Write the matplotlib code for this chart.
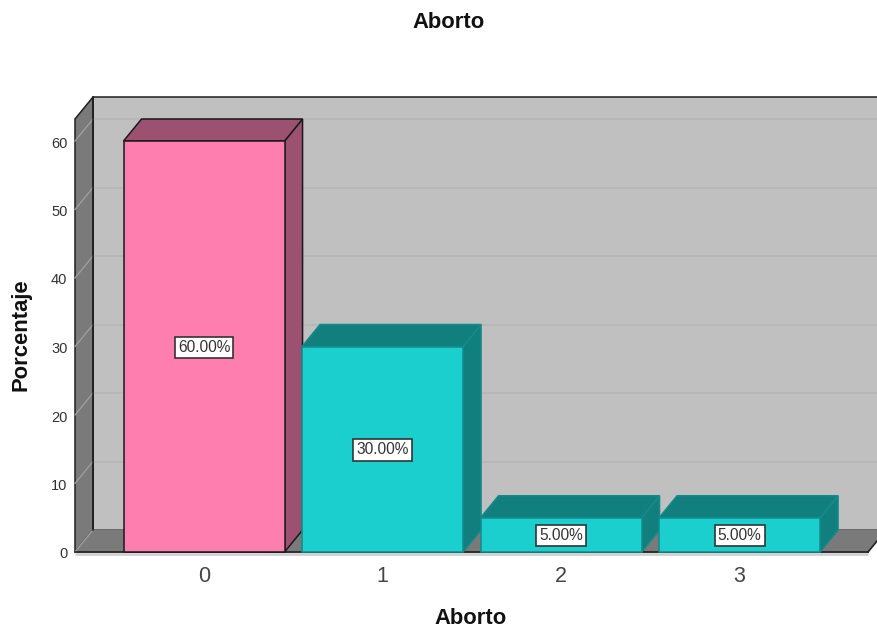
import matplotlib
matplotlib.use('Agg')
import matplotlib.pyplot as plt
from matplotlib.patches import Polygon
from matplotlib.transforms import ScaledTranslation

plt.rcParams['font.family'] = ['Liberation Sans', 'DejaVu Sans']

categories = ['0', '1', '2', '3']
percentages = [60, 30, 5, 5]
bar_colors = ['#ff7eb0', '#1bcfcf', '#1bcfcf', '#1bcfcf']
dark_colors = ['#9c5170', '#127f7f', '#127f7f', '#127f7f']
edge_colors = ['#1a1a1a', '#148a8a', '#148a8a', '#148a8a']
y_ticks = [0, 10, 20, 30, 40, 50, 60]

W, H = 878, 630
fig = plt.figure(figsize=(W / 100, H / 100), dpi=100)
ax = fig.add_axes([75 / W, (H - 552) / H, (W - 75) / W, (552 - 119) / H])

# one category is 178.5 px, one percentage point is 6.85 px
x_left = -0.723
x_right = x_left + (W - 75) / 178.5
y_top = (552 - 119) / 6.85
ax.set_xlim(x_left, x_right)
ax.set_ylim(0, y_top)

bar_w = 0.902
dx = 18 / 178.5
dy = 22 / 6.85
x_floor_end = x_left + (868 - 75) / 178.5
line = '#1f1f1f'


def face(pts, color, z, edge=line, lw=1.1):
    ax.add_patch(Polygon(pts, closed=True, facecolor=color, edgecolor=edge,
                         linewidth=lw, zorder=z, clip_on=False))


# back wall, side wall and floor
face([(x_left + dx, dy), (x_right + dx, dy), (x_right + dx, y_top + dy), (x_left + dx, y_top + dy)], '#c0c0c0', 1)
face([(x_left, 0), (x_left + dx, dy), (x_left + dx, y_top + dy), (x_left, y_top)], '#7a7a7a', 2)
face([(x_left, 0), (x_floor_end, 0), (x_floor_end + dx, dy), (x_left + dx, dy)], '#7a7a7a', 2, edge='#7a7a7a')

# gridlines run along the back wall and down the side wall
for t in y_ticks:
    if t > 0:
        ax.plot([x_left + dx, x_right + dx], [t + dy, t + dy], color='#b5b5b5', lw=1.1, zorder=1.5, clip_on=False)
    ax.plot([x_left, x_left + dx], [t, t + dy], color='#a0a0a0', lw=0.9, zorder=2.5, clip_on=False)

# redraw the wall corners over the floor
ax.plot([x_left + dx, x_left + dx], [dy, y_top + dy], color=line, lw=1.1, zorder=2.6, clip_on=False)
ax.plot([x_floor_end, x_floor_end + dx], [0, dy], color=line, lw=1.1, zorder=2.6, clip_on=False)

# light shadow under the dark front edge of the floor
ax.plot([x_left, x_floor_end], [-0.3, -0.3], color='#d0d0d0', lw=2.0, zorder=2.2, clip_on=False, solid_capstyle='butt')
ax.plot([x_left, x_floor_end], [0, 0], color=line, lw=1.2, zorder=2.6, clip_on=False)

for i, v in enumerate(percentages):
    l = i - bar_w / 2
    r = i + bar_w / 2
    z = 3 + i * 0.1
    face([(r, 0), (r + dx, dy), (r + dx, v + dy), (r, v)], dark_colors[i], z, edge_colors[i])
    face([(l, v), (r, v), (r + dx, v + dy), (l + dx, v + dy)], dark_colors[i], z, edge_colors[i])
    face([(l, 0), (r, 0), (r, v), (l, v)], bar_colors[i], z + 0.01, edge_colors[i])
    ax.text(i, v / 2 - 0.1, '%.2f%%' % v, ha='center', va='center', fontsize=11.2, color='#333333', zorder=6,
            bbox=dict(boxstyle='square,pad=0.2', facecolor='white', edgecolor='#333333', linewidth=1.2))

ax.set_xticks(range(len(categories)), categories)
ax.set_yticks(y_ticks)
ax.tick_params(axis='x', length=0, labelsize=15.5, pad=10, labelcolor='#444444')
ax.tick_params(axis='y', length=0, labelsize=10.5, pad=5.5, labelcolor='#333333')
shift = ScaledTranslation(0, -1 / 100, fig.dpi_scale_trans)
for lab in ax.get_yticklabels():
    lab.set_transform(lab.get_transform() + shift)
ax.patch.set_visible(False)
for s in ax.spines.values():
    s.set_visible(False)

fig.text(449 / W, 1 - 22 / H, 'Aborto', ha='center', va='center', fontsize=15.8, fontweight='bold', color='#111111')
fig.text(471 / W, 1 - 619 / H, 'Aborto', ha='center', va='center', fontsize=15.8, fontweight='bold', color='#111111')
fig.text(21 / W, 1 - 335 / H, 'Porcentaje', rotation=90, ha='center', va='center', fontsize=15.8, fontweight='bold', color='#111111')

fig.savefig('out.png', dpi=100)
plt.close(fig)
